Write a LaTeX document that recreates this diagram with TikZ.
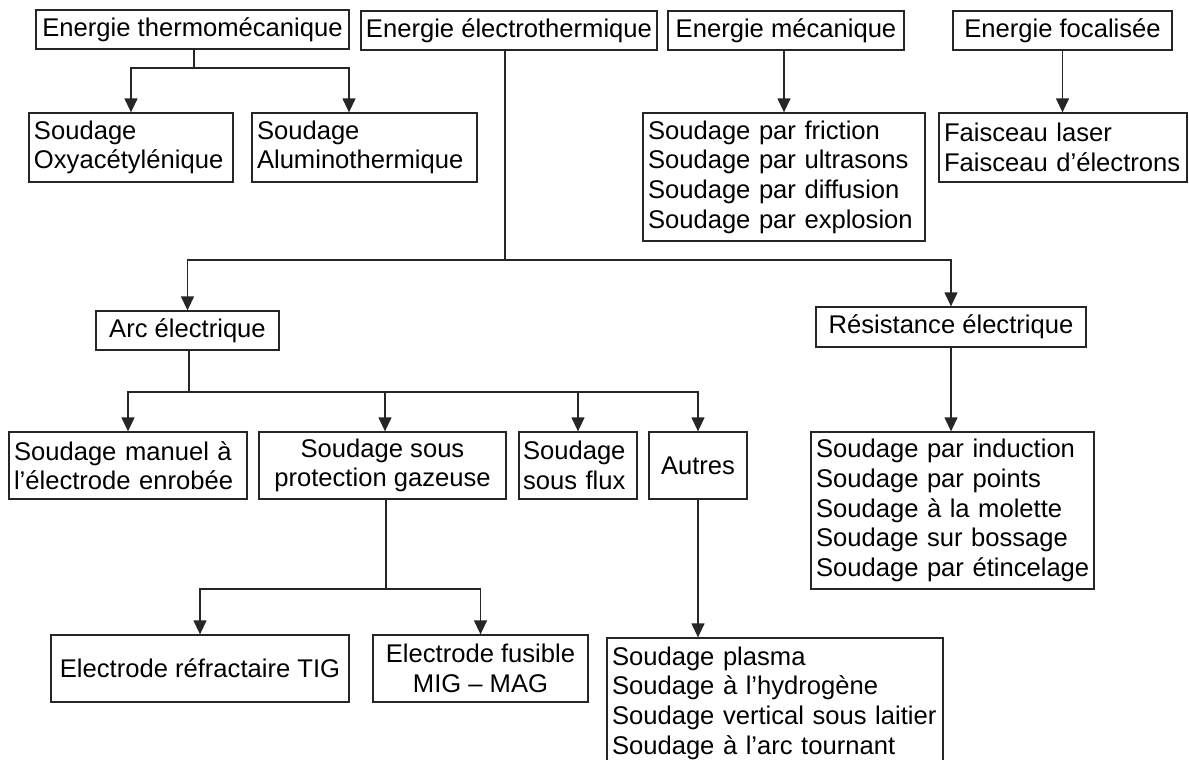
\documentclass[tikz,border=0pt]{standalone}
\usepackage{fontspec}
\setmainfont{Liberation Sans}
\usetikzlibrary{arrows.meta,calc}
\begin{document}
\begin{tikzpicture}[x=1pt,y=-1pt,
  box/.style={draw=black!85, line width=1.3pt, inner sep=0pt, font=\fontsize{25.6}{29.6}\selectfont},
  lbox/.style n args={3}{box, minimum width=#1, minimum height=#2, text width=#3, inner xsep=5pt, align=left},
  cbox/.style n args={2}{box, minimum width=#1, minimum height=#2, align=center},
  link/.style={draw=black!85, line width=1.3pt},
  arr/.style={link, -{Triangle[length=14pt,width=13pt]}}]
\useasboundingbox (0,0) rectangle (1189,760);
\clip (0,0) rectangle (1189,760);
\fill[white] (0,0) rectangle (1189,760);

% top row
\node[cbox={313pt}{39pt}] (thermo) at (192.5,29.5) {Energie thermomécanique};
\node[cbox={296pt}{39pt}] (electro) at (509,30.5) {Energie électrothermique};
\node[cbox={236pt}{39pt}] (meca) at (786,30.5) {Energie mécanique};
\node[cbox={219pt}{39pt}] (focal) at (1062.5,30.5) {Energie focalisée};

% second row
\node[lbox={204pt}{69pt}{194pt}] (oxy) at (131,147.5) {\mbox{Soudage}\\\mbox{Oxyacétylénique}};
\node[lbox={225pt}{69pt}{215pt}] (alu) at (364.5,147.5) {\mbox{Soudage}\\\mbox{Aluminothermique}};
\node[lbox={282pt}{128pt}{272pt}] (mecalist) at (784,177) {\mbox{Soudage par friction}\\\mbox{Soudage par ultrasons}\\\mbox{Soudage par diffusion}\\\mbox{Soudage par explosion}};
\node[lbox={248pt}{69pt}{238pt}] (faisceau) at (1063,147.5) {\mbox{Faisceau laser}\\\mbox{Faisceau d’électrons}};

% third row
\node[cbox={183pt}{39pt}] (arc) at (187.5,330.5) {Arc électrique};
\node[cbox={270pt}{40pt}] (resist) at (951,327) {Résistance électrique};

% fourth row
\node[lbox={238pt}{67pt}{228pt}] (manuel) at (128,465.5) {\mbox{Soudage manuel à}\\\mbox{l’électrode enrobée}};
\node[cbox={247pt}{67pt}] (gazeuse) at (382.5,465.5) {Soudage sous\\protection gazeuse};
\node[box, minimum width=118pt, minimum height=67pt, text width=110pt, inner xsep=4pt, align=left] (flux) at (578,465.5) {\mbox{Soudage}\\\mbox{sous flux}};
\node[cbox={98pt}{67pt}] (autres) at (698,465.5) {Autres};
\node[lbox={283pt}{157pt}{273pt}] (resistlist) at (952.5,510.5) {\mbox{Soudage par induction}\\\mbox{Soudage par points}\\\mbox{Soudage à la molette}\\\mbox{Soudage sur bossage}\\\mbox{Soudage par étincelage}};

% fifth row
\node[cbox={298pt}{67pt}] (tig) at (200,668.5) {Electrode réfractaire TIG};
\node[cbox={215pt}{67pt}] (mig) at (480.5,668.5) {Electrode fusible\\MIG – MAG};
\node[lbox={336pt}{130pt}{326pt}] (autreslist) at (775,703) {\mbox{Soudage plasma}\\\mbox{Soudage à l’hydrogène}\\\mbox{Soudage vertical sous laitier}\\\mbox{Soudage à l’arc tournant}};

% connectors
\coordinate (t1) at (194,68);
\draw[link] (thermo.south -| t1) -- (t1);
\draw[arr] (t1) -| (oxy.north);
\draw[arr] (t1) -| ([xshift=-15.5pt]alu.north);

\coordinate (e1) at (505,260);
\draw[link] (electro.south -| e1) -- (e1);
\draw[arr] (e1) -| (arc.north);
\draw[arr] (e1) -| (resist.north);

\draw[arr] (meca.south -| mecalist.north) -- (mecalist.north);
\draw[arr] (focal.south) -- (focal.south |- faisceau.north);

\coordinate (a1) at (189,392);
\draw[link] (arc.south -| a1) -- (a1);
\draw[arr] (a1) -| (manuel.north);
\draw[arr] (a1) -| ([xshift=2.5pt]gazeuse.north);
\draw[arr] (a1) -| (flux.north);
\draw[arr] (a1) -| (autres.north);

\draw[arr] (resist.south) -- (resist.south |- resistlist.north);

\coordinate (g1) at (386,589);
\draw[link] (gazeuse.south -| g1) -- (g1);
\draw[arr] (g1) -| (tig.north);
\draw[arr] (g1) -| (mig.north);

\draw[arr] (autres.south) -- (autres.south |- autreslist.north);
\end{tikzpicture}
\end{document}
